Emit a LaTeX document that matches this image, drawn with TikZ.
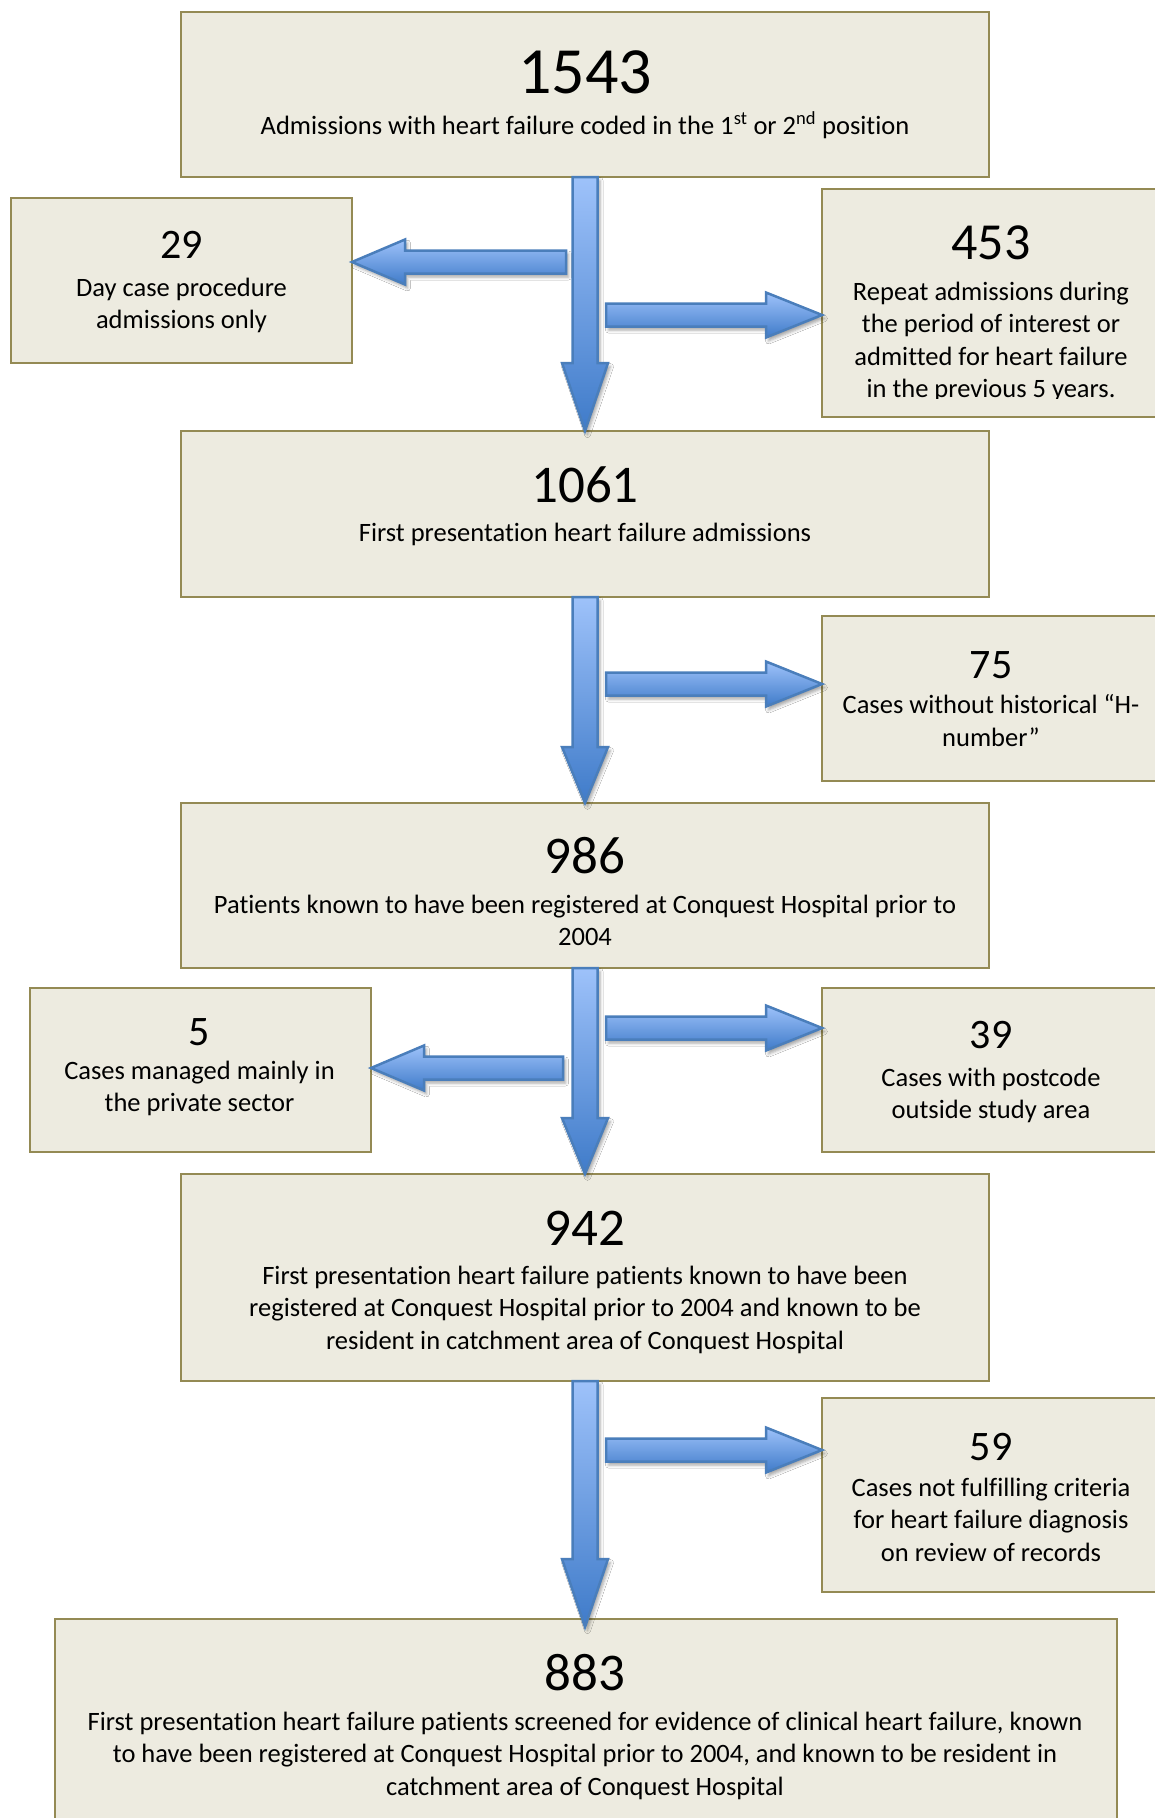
\documentclass[tikz,border=0pt]{standalone}
\usepackage{fontspec}
\setmainfont{Carlito}[Ligatures=NoCommon]
\usetikzlibrary{calc,shadows.blur}
\definecolor{boxfill}{HTML}{EDEBE0}
\definecolor{boxdraw}{HTML}{948A54}
\definecolor{arrtop}{HTML}{9EC2FA}
\definecolor{arrbot}{HTML}{3F7BC9}
\definecolor{arrdraw}{HTML}{4A7EBB}
\newcommand\varrow[3]{%
  \path[fatarrow] ($(#1)+(-12.5,0)$) -- ($(#2)+(-12.5,-#3)$) -- ($(#2)+(-23,-#3)$) -- (#2)
    -- ($(#2)+(23,-#3)$) -- ($(#2)+(12.5,-#3)$) -- ($(#1)+(12.5,0)$) -- cycle;}
\newcommand\rarrow[2]{%
  \path[fatarrow] ($(#1)+(0,-11.5)$) -- ($(#2)+(-56,-11.5)$) -- ($(#2)+(-56,-22.5)$) -- (#2)
    -- ($(#2)+(-56,22.5)$) -- ($(#2)+(-56,11.5)$) -- ($(#1)+(0,11.5)$) -- cycle;}
\newcommand\larrow[2]{%
  \path[fatarrow] ($(#1)+(0,-11.5)$) -- ($(#2)+(53,-11.5)$) -- ($(#2)+(53,-22.5)$) -- (#2)
    -- ($(#2)+(53,22.5)$) -- ($(#2)+(53,11.5)$) -- ($(#1)+(0,11.5)$) -- cycle;}
\begin{document}
\begin{tikzpicture}[x=1pt,y=-1pt,
  box/.style={draw=boxdraw, fill=boxfill, line width=2pt, rectangle, outer sep=0pt, inner sep=0pt},
  bignum/.style={font=\fontsize{53}{60}\selectfont, anchor=base, inner sep=0pt},
  sidenum/.style={font=\fontsize{42}{48}\selectfont, anchor=base, inner sep=0pt},
  desc/.style={font=\fontsize{26.5}{32.5}\selectfont, align=center, anchor=base, inner sep=0pt},
  fatarrow/.style={draw=arrdraw, line width=2.5pt, line join=miter, top color=arrtop, bottom color=arrbot,
    blur shadow={shadow xshift=2.5pt, shadow yshift=-3.5pt, shadow blur radius=3pt, shadow opacity=35}}
]
\useasboundingbox[fill=white] (0,0) rectangle (1155,1818);

% boxes
\node[box, minimum width=808, minimum height=165] (b1) at (585,94.5) {};
\node[box, minimum width=341, minimum height=165] (b29) at (181.5,280.5) {};
\node[box, minimum width=338, minimum height=228] (b453) at (991,303) {};
\node[box, minimum width=808, minimum height=166] (b1061) at (585,514) {};
\node[box, minimum width=338, minimum height=165] (b75) at (991,698.5) {};
\node[box, minimum width=808, minimum height=165] (b986) at (585,885.5) {};
\node[box, minimum width=341, minimum height=164] (b5) at (200.5,1070) {};
\node[box, minimum width=338, minimum height=164] (b39) at (991,1070) {};
\node[box, minimum width=808, minimum height=207] (b942) at (585,1277.5) {};
\node[box, minimum width=338, minimum height=194] (b59) at (991,1495) {};
\node[box, minimum width=1062, minimum height=211] (b883) at (586,1724.5) {};

% texts (multi-line nodes are anchored at the baseline of their last line)
\node[bignum, font=\fontsize{66}{72}\selectfont] (n1) at (585,93) {1543};
\node[desc] (d1) at (585,134) {Admissions with heart failure coded in the 1\textsuperscript{st} or 2\textsuperscript{nd} position};

\node[sidenum] (n29) at (181.5,258) {29};
\node[desc] (d29) at (181.5,328.5) {Day case procedure\\admissions only};

\node[sidenum, font=\fontsize{52}{58}\selectfont] (n453) at (991,259) {453};
\begin{scope}
\clip (822,189) rectangle (1160,398.5);
\node[desc] (d453) at (991,397.5) {Repeat admissions during\\the period of interest or\\admitted for heart failure\\in the previous 5 years.};
\end{scope}

\node[bignum] (n1061) at (585,502) {1061};
\node[desc] (d1061) at (585,541) {First presentation heart failure admissions};

\node[sidenum] (n75) at (991,678) {75};
\node[desc] (d75) at (991,746) {Cases without historical “H-\\number”};

\node[bignum] (n986) at (585,873) {986};
\node[desc] (d986) at (585,945.5) {Patients known to have been registered at Conquest Hospital prior to\\2004};

\node[sidenum] (n5) at (199.5,1045.5) {5};
\node[desc] (d5) at (199.5,1111.5) {Cases managed mainly in\\the private sector};

\node[sidenum] (n39) at (991,1048.5) {39};
\node[desc] (d39) at (991,1118.5) {Cases with postcode\\outside study area};

\node[bignum] (n942) at (585,1245) {942};
\node[desc] (d942) at (585,1349) {First presentation heart failure patients known to have been\\registered at Conquest Hospital prior to 2004 and known to be\\resident in catchment area of Conquest Hospital};

\node[sidenum] (n59) at (991,1460.5) {59};
\node[desc] (d59) at (991,1561) {Cases not fulfilling criteria\\for heart failure diagnosis\\on review of records};

\node[bignum] (n883) at (585,1690) {883};
\node[desc] (d883) at (585,1795) {First presentation heart failure patients screened for evidence of clinical heart failure, known\\to have been registered at Conquest Hospital prior to 2004, and known to be resident in\\catchment area of Conquest Hospital};

% connector start points
\coordinate (l1) at (566,262);
\coordinate (r1) at (606,315);
\coordinate (r2) at (606,684);
\coordinate (l2) at (563,1068);
\coordinate (r3) at (606,1028);
\coordinate (r4) at (606,1450);
\coordinate (t4) at ($(b883.north)+(-1,8)$);

% arrows
\larrow{l1}{l1 -| b29.east}
\varrow{b1.south}{b1061.north}{68}
\rarrow{r1}{r1 -| b453.west}
\varrow{b1061.south}{b986.north}{56}
\rarrow{r2}{r2 -| b75.west}
\larrow{l2}{l2 -| b5.east}
\varrow{b986.south}{b942.north}{56}
\rarrow{r3}{r3 -| b39.west}
\varrow{b942.south}{t4}{68}
\rarrow{r4}{r4 -| b59.west}
\end{tikzpicture}
\end{document}
